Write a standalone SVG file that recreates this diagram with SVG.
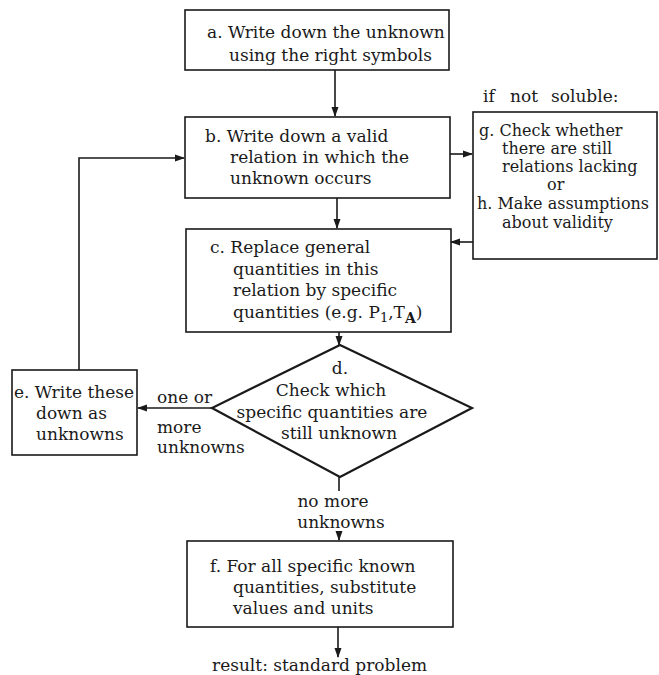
<svg xmlns="http://www.w3.org/2000/svg" width="659" height="675" viewBox="0 0 659 675">
<style>
.bx{fill:none;stroke:#1a1a1a;stroke-width:1.6}
.dm{fill:none;stroke:#1a1a1a;stroke-width:2.2}
.cn{fill:none;stroke:#1a1a1a;stroke-width:1.6}
text{font-family:"DejaVu Serif","Liberation Serif",serif;font-size:17px;fill:#1a1a1a}
.s{font-size:16px}
.m{text-anchor:middle}
</style>
<defs>
<marker id="ah" markerWidth="10" markerHeight="8" refX="9" refY="4" orient="auto" markerUnits="userSpaceOnUse">
<path d="M0,0.5 L10,4 L0,7.5 Z" fill="#1a1a1a"/>
</marker>
</defs>
<rect width="659" height="675" fill="#fff"/>
<g id="connectors">
<line class="cn" x1="335" y1="70" x2="335" y2="116" marker-end="url(#ah)"/>
<line class="cn" x1="337" y1="198" x2="337" y2="228" marker-end="url(#ah)"/>
<line class="cn" x1="450" y1="154" x2="472" y2="154" marker-end="url(#ah)"/>
<line class="cn" x1="473" y1="242" x2="451" y2="242" marker-end="url(#ah)"/>
<line class="cn" x1="339" y1="332" x2="339" y2="345" marker-end="url(#ah)"/>
<line class="cn" x1="212" y1="408" x2="138" y2="408" marker-end="url(#ah)"/>
<path class="cn" d="M79,370 V158 H184" marker-end="url(#ah)"/>
<path class="cn" d="M339,477 V491 M339,531 V540" marker-end="url(#ah)"/>
<line class="cn" x1="338" y1="627" x2="338" y2="657" marker-end="url(#ah)"/>
</g>
<g id="node-a">
<rect class="bx" x="185" y="10" width="264" height="60"/>
<text x="207" y="38">a. Write down the unknown</text>
<text x="229" y="61">using the right symbols</text>
</g>
<g id="node-b">
<rect class="bx" x="185" y="117" width="265" height="81"/>
<text x="205" y="142">b. Write down a valid</text>
<text x="230" y="163">relation in which the</text>
<text x="230" y="184">unknown occurs</text>
</g>
<g id="node-gh">
<text y="102"><tspan x="483">if</tspan><tspan x="510">not</tspan><tspan x="551">soluble:</tspan></text>
<rect class="bx" x="473" y="112" width="184" height="147"/>
<text class="s" x="479" y="136">g. Check whether</text>
<text class="s" x="502" y="154">there are still</text>
<text class="s" x="502" y="172">relations lacking</text>
<text class="s" x="547" y="190">or</text>
<text class="s" x="477" y="209">h. Make assumptions</text>
<text class="s" x="502" y="228">about validity</text>
</g>
<g id="node-c">
<rect class="bx" x="186" y="229" width="265" height="103"/>
<text x="210" y="253">c. Replace general</text>
<text x="233" y="275">quantities in this</text>
<text x="233" y="296">relation by specific</text>
<text x="233" y="318">quantities (e.g. P<tspan font-size="13" dy="4">1</tspan><tspan dy="-4">,T</tspan><tspan font-size="14" font-weight="bold" dy="5">A</tspan><tspan dy="-5">)</tspan></text>
</g>
<g id="node-d">
<polygon class="dm" points="340,345 472,408 340,477 212,408"/>
<text class="m" x="340" y="374">d.</text>
<text class="m" x="331" y="396">Check which</text>
<text class="m" x="332" y="418">specific quantities are</text>
<text class="m" x="339" y="439">still unknown</text>
</g>
<g id="node-e">
<rect class="bx" x="12" y="370" width="125" height="85"/>
<text x="14" y="398">e. Write these</text>
<text x="36" y="419">down as</text>
<text x="36" y="440">unknowns</text>
<text x="157" y="403">one or</text>
<text x="157" y="433">more</text>
<text x="157" y="453">unknowns</text>
</g>
<g id="node-f">
<text class="m" x="333" y="507">no more</text>
<text class="m" x="341" y="528">unknowns</text>
<rect class="bx" x="187" y="541" width="266" height="86"/>
<text x="210" y="572">f. For all specific known</text>
<text x="233" y="593">quantities, substitute</text>
<text x="233" y="614">values and units</text>
<text x="212" y="671">result: standard problem</text>
</g>
</svg>
